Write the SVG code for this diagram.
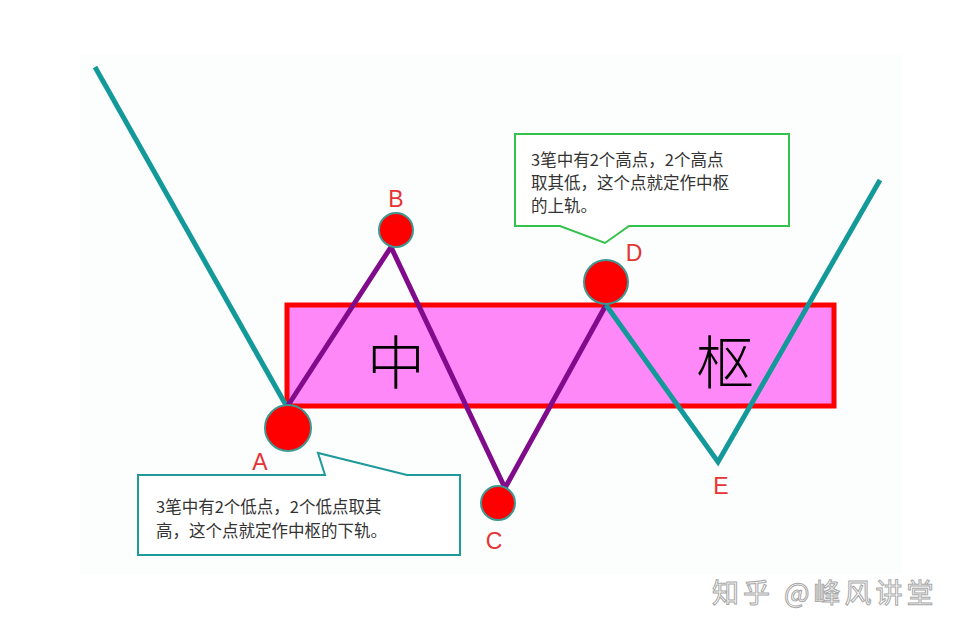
<svg xmlns="http://www.w3.org/2000/svg" width="967" height="631" viewBox="0 0 967 631">
<style>
.teal{fill:none;stroke:#14999a;stroke-width:5;stroke-linejoin:miter;stroke-linecap:butt}
.purple{fill:none;stroke:#800c8c;stroke-width:5;stroke-linejoin:miter}
.dot{fill:#ff0000;stroke:#3e9790;stroke-width:2}
.lbl{font-family:"Liberation Sans","Open Sans",sans-serif;font-size:23px;fill:#e43434;text-anchor:middle}
.note{font-family:"Noto Sans CJK SC","Noto Sans",sans-serif;font-size:16.5px;fill:#333}
.big{font-family:"Noto Sans CJK SC",sans-serif;font-size:58px;font-weight:300;fill:#000;text-anchor:middle}
.wm{font-family:"Noto Sans CJK SC",sans-serif;font-size:27px;letter-spacing:4px;fill:#ffffff;stroke:#a8a8a8;stroke-width:1}
</style>
<rect x="0" y="0" width="967" height="631" fill="#ffffff"/>
<rect x="80" y="55" width="822" height="520" fill="#fcfdfd"/>
<g id="zhongshu">
<rect x="287" y="305" width="547" height="101" fill="#ff88f8" stroke="#ff0000" stroke-width="5"/>
<text class="big" x="396" y="384">中</text>
<text class="big" x="725" y="384">枢</text>
</g>
<g id="connectors">
<polyline class="teal" points="95,67 287,407"/>
<polyline class="purple" points="287,407 391,247 505,488 606,305"/>
<polyline class="teal" points="606,305 718,462 880,180"/>
</g>
<g id="nodeA"><circle class="dot" cx="288" cy="428" r="23"/><text class="lbl" x="260" y="470">A</text></g>
<g id="nodeB"><circle class="dot" cx="396" cy="230" r="17"/><text class="lbl" x="396" y="207">B</text></g>
<g id="nodeC"><circle class="dot" cx="498" cy="503" r="17"/><text class="lbl" x="494" y="549">C</text></g>
<g id="nodeD"><circle class="dot" cx="606" cy="282" r="22"/><text class="lbl" x="634" y="261">D</text></g>
<g id="nodeE"><text class="lbl" x="721" y="494">E</text></g>
<g id="noteTop">
<path d="M515,134 H789 V226 H629 L605,243 L560,226 H515 Z" fill="#ffffff" stroke="#33c24a" stroke-width="2"/>
<text class="note" x="531" y="166">3笔中有2个高点，2个高点</text>
<text class="note" x="531" y="189">取其低，这个点就定作中枢</text>
<text class="note" x="531" y="212">的上轨。</text>
</g>
<g id="noteBottom">
<path d="M138,475 H325 L318,453 L407,475 H460 V555 H138 Z" fill="#ffffff" stroke="#1f9a9a" stroke-width="2"/>
<text class="note" x="156" y="513">3笔中有2个低点，2个低点取其</text>
<text class="note" x="156" y="537">高，这个点就定作中枢的下轨。</text>
</g>
<text class="wm" x="712" y="603">知乎 @峰风讲堂</text>
</svg>
